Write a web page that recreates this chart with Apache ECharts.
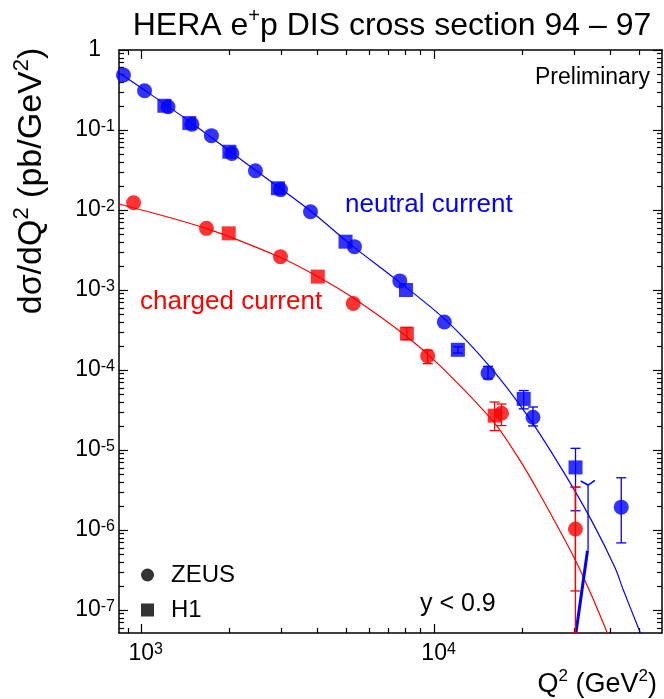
<!DOCTYPE html>
<html><head><meta charset="utf-8">
<script src="https://cdn.jsdelivr.net/npm/echarts@6/dist/echarts.min.js"></script>
<style>html,body{margin:0;padding:0;background:#fff}#c{width:664px;height:699px}</style>
</head><body><div id="c"></div>
<script>
// ---- axis ranges and ticks (real values) ----
const xRange = [840, 60000];
const yRange = [5.16e-8, 1];
const xMajorTicks = [1e3, 1e4];
const xMinorTicks = [900, 2000, 3000, 4000, 5000, 6000, 7000, 8000, 9000, 20000, 30000, 40000, 50000];
const yMajorTicks = [1, 1e-1, 1e-2, 1e-3, 1e-4, 1e-5, 1e-6, 1e-7];
const yMinorMult = [2, 3, 4, 5, 6, 7, 8, 9];

// ---- neutral current (NC) data ----
const ncZeusQ2 = [870, 1027, 1235, 1490, 1737, 2040, 2455, 2990, 3785, 5346, 7638, 10840, 15280, 21760, 43550];
const ncZeusXs = [0.487, 0.310, 0.195, 0.118, 0.085, 0.051, 0.031, 0.0180, 0.00952, 0.00348, 0.0013, 3.98e-4, 9.15e-5, 2.57e-5, 1.93e-6];
const ncH1Q2 = [1200, 1460, 2000, 2930, 4985, 8017, 12060, 20230, 30400];
const ncH1Xs = [0.201, 0.122, 0.0535, 0.0187, 0.00402, 0.00100, 1.79e-4, 4.35e-5, 6.06e-6];
// error bars: [Q2, low, high]
const ncErrors = [
  [15280, 7.76e-5, 1.11e-4], [21760, 2.0e-5, 3.45e-5], [43550, 6.9e-7, 4.5e-6],
  [20230, 3.27e-5, 5.54e-5], [30400, 1.74e-6, 1.05e-5], [12060, 1.63e-4, 1.95e-4]
];
// ZEUS NC point compatible with zero (upper error only)
const ncLimitCap = [[31660, 4.1e-6], [33550, 3.65e-6], [35430, 4.17e-6]];
const ncLimitStem = [[33550, 3.65e-6], [33550, 5.5e-7]];
const ncLimitTail = [[33400, 5.5e-7], [30500, 5.16e-8]];
// SM curve NC
const ncCurveQ2 = [841, 1025, 1470, 2450, 3790, 5180, 7690, 10970, 15610, 21300, 27960, 34500, 41450, 44270, 50620];
const ncCurveXs = [0.516, 0.316, 0.126, 0.0316, 0.00973, 0.00372, 0.00122, 4.2e-4, 1.07e-4, 2.4e-5, 5.0e-6, 1.31e-6, 3.39e-7, 1.78e-7, 5.16e-8];

// ---- charged current (CC) data ----
const ccZeusQ2 = [942, 1670, 2990, 5296, 9510, 16990, 30380];
const ccZeusXs = [0.01234, 0.0059, 0.0026, 6.78e-4, 1.5e-4, 2.88e-5, 1.03e-6];
const ccH1Q2 = [1990, 4009, 8074, 16100];
const ccH1Xs = [0.00511, 0.00147, 2.85e-4, 2.69e-5];
const ccErrors = [
  [8074, 2.4e-4, 3.39e-4], [9510, 1.2e-4, 1.76e-4], [16100, 1.75e-5, 3.98e-5],
  [16990, 2.02e-5, 3.76e-5], [30380, 5.16e-8, 3.44e-6], [30380, 1.73e-7, 3.44e-6]
];
// SM curve CC
const ccCurveQ2 = [840, 1664, 2978, 3983, 5286, 8021, 10476, 16015, 19190, 22810, 30040, 34330, 39550];
const ccCurveXs = [0.01189, 0.00589, 0.002564, 0.001487, 7.99e-4, 2.66e-4, 1.135e-4, 2.22e-5, 8.49e-6, 2.92e-6, 4.54e-7, 1.585e-7, 4.6e-8];

const BLUE = '#0000ff', RED = '#ff0000';
const FONT = '"Liberation Sans", Arial, Helvetica, sans-serif';
const L = Math.log10;
const pairs = (xs, ys) => xs.map((x, i) => [L(x), L(ys[i])]);
const logPts = pts => pts.map(p => [L(p[0]), L(p[1])]);

const yMinorTicks = [];
for (let e = -8; e < 0; e++) yMinorMult.forEach(m => {
  const v = m * Math.pow(10, e);
  if (v > yRange[0] && v < yRange[1]) yMinorTicks.push(v);
});

function errSeries(data, color) {
  return {
    type: 'custom', xAxisIndex: 0, yAxisIndex: 0, z: 3, clip: true,
    encode: { x: 0, y: [1, 2] },
    data: data.map(d => [L(d[0]), L(d[1]), L(d[2])]),
    renderItem(params, api) {
      const x = api.value(0);
      const a = api.coord([x, api.value(1)]);
      const b = api.coord([x, api.value(2)]);
      const w = 5;
      const st = { stroke: color, lineWidth: 1.3 };
      return { type: 'group', children: [
        { type: 'line', shape: { x1: a[0], y1: a[1], x2: b[0], y2: b[1] }, style: st },
        { type: 'line', shape: { x1: a[0] - w, y1: a[1], x2: a[0] + w, y2: a[1] }, style: st },
        { type: 'line', shape: { x1: b[0] - w, y1: b[1], x2: b[0] + w, y2: b[1] }, style: st }
      ]};
    }
  };
}
function lineSeries(data, color, width, smooth) {
  return { type: 'line', xAxisIndex: 0, yAxisIndex: 0, data, showSymbol: false, symbol: 'none',
    smooth: smooth ? 0.3 : false, lineStyle: { color, width }, z: 2, silent: true };
}
function scatter(name, data, color, symbol, size) {
  return { name, type: 'scatter', xAxisIndex: 0, yAxisIndex: 0, data, symbol, symbolSize: size,
    itemStyle: { color }, z: 4 };
}

const xMin = L(xRange[0]), xMax = L(xRange[1]), yMin = L(yRange[0]), yMax = L(yRange[1]);
const axisLineStyle = { color: '#000', width: 1.5 };
function xAxisDef(pos, major, labels) {
  return {
    type: 'value', position: pos, min: xMin, max: xMax, gridIndex: 0,
    axisLine: { show: major, onZero: false, lineStyle: axisLineStyle },
    axisTick: { show: true, inside: true, length: major ? 9 : 5, lineStyle: { color: '#000', width: 1.2 },
      customValues: (major ? xMajorTicks : xMinorTicks).map(L) },
    axisLabel: labels ? {
      show: true, margin: 9, customValues: xMajorTicks.map(L),
      formatter: v => '{p|}{b|10}{s|' + Math.round(v) + '}',
      rich: {
        p: { width: 9 },
        b: { fontSize: 23, lineHeight: 23, verticalAlign: 'bottom', fontFamily: FONT, color: '#000' },
        s: { fontSize: 16, lineHeight: 16, verticalAlign: 'top', padding: [0, 0, 14, 0], fontFamily: FONT, color: '#000' }
      }
    } : { show: false },
    splitLine: { show: false }
  };
}
function yAxisDef(pos, major, labels) {
  return {
    type: 'value', position: pos, min: yMin, max: yMax, gridIndex: 0,
    axisLine: { show: major, onZero: false, lineStyle: axisLineStyle },
    axisTick: { show: true, inside: true, length: major ? 9 : 5, lineStyle: { color: '#000', width: 1.2 },
      customValues: (major ? yMajorTicks : yMinorTicks).map(L) },
    axisLabel: labels ? {
      show: true, margin: 4, customValues: yMajorTicks.map(L),
      formatter: v => { const e = Math.round(v); return e === 0 ? '{b|1}{g|}' : '{b|10}{s|' + e + '}'; },
      rich: {
        g: { width: 14 },
        b: { fontSize: 23, lineHeight: 23, verticalAlign: 'bottom', fontFamily: FONT, color: '#000' },
        s: { fontSize: 16, lineHeight: 16, verticalAlign: 'top', padding: [0, 0, 14, 0], fontFamily: FONT, color: '#000' }
      }
    } : { show: false },
    splitLine: { show: false }
  };
}

const supRich = (big, small, raise) => ({
  a: { fontSize: big, lineHeight: big + 4, verticalAlign: 'bottom', fontFamily: FONT, fill: '#000' },
  s: { fontSize: small, lineHeight: small, verticalAlign: 'top', padding: [0, 0, raise, 0], fontFamily: FONT, fill: '#000' }
});

const chart = echarts.init(document.getElementById('c'), null, { renderer: 'canvas' });
chart.setOption({
  animation: false,
  backgroundColor: '#fff',
  grid: { left: 119, right: 2, top: 50, bottom: 66, containLabel: false },
  xAxis: [xAxisDef('bottom', true, true), xAxisDef('bottom', false, false), xAxisDef('top', true, false), xAxisDef('top', false, false)],
  yAxis: [yAxisDef('left', true, true), yAxisDef('left', false, false), yAxisDef('right', true, false), yAxisDef('right', false, false)],
  legend: {
    orient: 'vertical', left: 141, top: 563, padding: 0, itemWidth: 13, itemHeight: 13, itemGap: 11,
    textStyle: { fontSize: 24, fontFamily: FONT, color: '#000', padding: [0, 0, 0, 12] },
    data: [{ name: 'ZEUS', icon: 'circle' }, { name: 'H1', icon: 'rect' }],
    selectedMode: false
  },
  series: [
    lineSeries(pairs(ncCurveQ2, ncCurveXs), BLUE, 1.2, true),
    lineSeries(pairs(ccCurveQ2, ccCurveXs), RED, 1.2, true),
    errSeries(ncErrors, BLUE),
    errSeries(ccErrors, RED),
    lineSeries(logPts(ncLimitCap), BLUE, 1.5, false),
    lineSeries(logPts(ncLimitStem), BLUE, 1.3, false),
    lineSeries(logPts(ncLimitTail), BLUE, 3, false),
    scatter('ZEUS NC', pairs(ncZeusQ2, ncZeusXs), BLUE, 'circle', 15),
    scatter('H1 NC', pairs(ncH1Q2, ncH1Xs), BLUE, 'rect', 14),
    scatter('ZEUS CC', pairs(ccZeusQ2, ccZeusXs), RED, 'circle', 15),
    scatter('H1 CC', pairs(ccH1Q2, ccH1Xs), RED, 'rect', 14),
    { name: 'ZEUS', type: 'scatter', data: [], itemStyle: { color: '#000' } },
    { name: 'H1', type: 'scatter', data: [], itemStyle: { color: '#000' } }
  ],
  graphic: [
    { type: 'text', x: 392, y: 24, style: { text: '{a|HERA e}{s|+}{a|p DIS cross section 94 – 97}', rich: supRich(32, 20, 14), align: 'center', verticalAlign: 'middle' } },
    { type: 'text', x: 650, y: 78, style: { text: 'Preliminary', font: '23px ' + FONT, fill: '#000', align: 'right', verticalAlign: 'middle' } },
    { type: 'text', x: 345, y: 205, style: { text: 'neutral current', font: '26px ' + FONT, fill: BLUE, align: 'left', verticalAlign: 'middle' } },
    { type: 'text', x: 140, y: 302, style: { text: 'charged current', font: '26px ' + FONT, fill: RED, align: 'left', verticalAlign: 'middle' } },
    { type: 'text', x: 420, y: 604, style: { text: 'y < 0.9', font: '25px ' + FONT, fill: '#000', align: 'left', verticalAlign: 'middle' } },
    { type: 'text', x: 657, y: 683, style: { text: '{a|Q}{s|2}{a| (GeV}{s|2}{a|)}', rich: supRich(27, 17, 12), align: 'right', verticalAlign: 'middle' } },
    { type: 'text', x: 30, y: 181, rotation: Math.PI / 2, style: { text: '{a|dσ/dQ}{s|2}{a| (pb/GeV}{s|2}{a|)}', rich: supRich(34, 22, 15), align: 'center', verticalAlign: 'middle' } }
  ]
});
</script></body></html>
